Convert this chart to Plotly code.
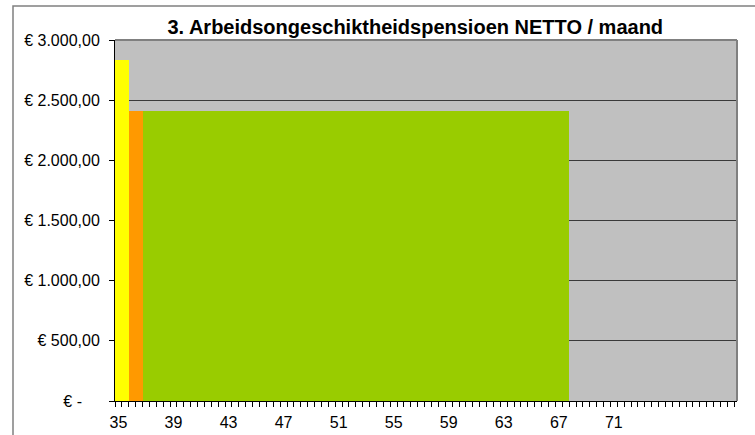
import plotly.graph_objects as go

# Data (ages in years; amounts in euro per month)
series_names = ["Fase 1", "Fase 2", "Fase 3"]
start_ages = [35.0, 36.0, 37.0]
end_ages = [36.0, 37.0, 68.0]
amounts = [2830, 2410, 2410]
colors = ["#FFFF00", "#FF9900", "#99CC00"]

label_ages = [35, 39, 43, 47, 51, 55, 59, 63, 67, 71]
y_ticks = [0, 500, 1000, 1500, 2000, 2500, 3000]
y_labels = ["€ -\u2007\u2007", "€ 500,00", "€ 1.000,00", "€ 1.500,00",
            "€ 2.000,00", "€ 2.500,00", "€ 3.000,00"]

title_text = "3. Arbeidsongeschiktheidspensioen NETTO / maand"

fig = go.Figure()
for name, s, e, a, c in zip(series_names, start_ages, end_ages, amounts, colors):
    fig.add_trace(go.Bar(
        x=[(s + e) / 2], y=[a], width=[e - s], name=name,
        marker=dict(color=c, line=dict(width=0)),
        hoverinfo="skip",
    ))

font_family = "Liberation Sans, Arial, sans-serif"

fig.update_layout(
    width=755, height=435,
    margin=dict(l=115, r=18, t=40, b=34, autoexpand=False),
    paper_bgcolor="white",
    plot_bgcolor="#C0C0C0",
    showlegend=False,
    bargap=0,
    font=dict(family=font_family, size=16, color="black"),
    title=dict(text="<b>" + title_text + "</b>", x=0.55, xanchor="center",
               y=1 - 27 / 435, yanchor="middle",
               font=dict(size=20, family=font_family, color="black")),
    xaxis=dict(
        range=[35, 80.2],
        automargin=False,
        tickmode="array",
        tickvals=[a + 0.25 for a in label_ages],
        ticktext=[str(a) for a in label_ages],
        ticks="", showgrid=False, zeroline=False,
        showline=True, linecolor="black", linewidth=1,
        tickfont=dict(size=16),
        ticklabelstandoff=7,
        minor=dict(tickmode="linear", tick0=35, dtick=0.5, ticks="outside",
                   ticklen=5, tickcolor="black", tickwidth=1, showgrid=False),
    ),
    yaxis=dict(
        range=[0, 3000],
        automargin=False,
        tickmode="array", tickvals=y_ticks, ticktext=y_labels,
        ticks="outside", ticklen=5, tickcolor="black",
        showgrid=True, gridcolor="#3a3a3a", gridwidth=1,
        zeroline=False,
        showline=True, linecolor="black", linewidth=1,
        ticklabelstandoff=6,
        tickfont=dict(size=16),
    ),
)

# plot-area top and right border
fig.add_shape(type="line", xref="paper", yref="paper", x0=0, x1=1, y0=1, y1=1,
              line=dict(color="#808080", width=2))
fig.add_shape(type="line", xref="paper", yref="paper", x0=1, x1=1, y0=0, y1=1,
              line=dict(color="#808080", width=2))
# chart outer border
fig.add_shape(type="rect", xref="paper", yref="paper",
              x0=(13 - 115) / 622, x1=(780 - 115) / 622,
              y0=(401 - 460) / 361, y1=(401 - 6) / 361,
              line=dict(color="#808080", width=1.5), layer="above")

fig.write_html(
    "out.html",
    config={"displayModeBar": False},
    post_script="document.body.style.margin='0';document.body.style.overflow='hidden';",
)
